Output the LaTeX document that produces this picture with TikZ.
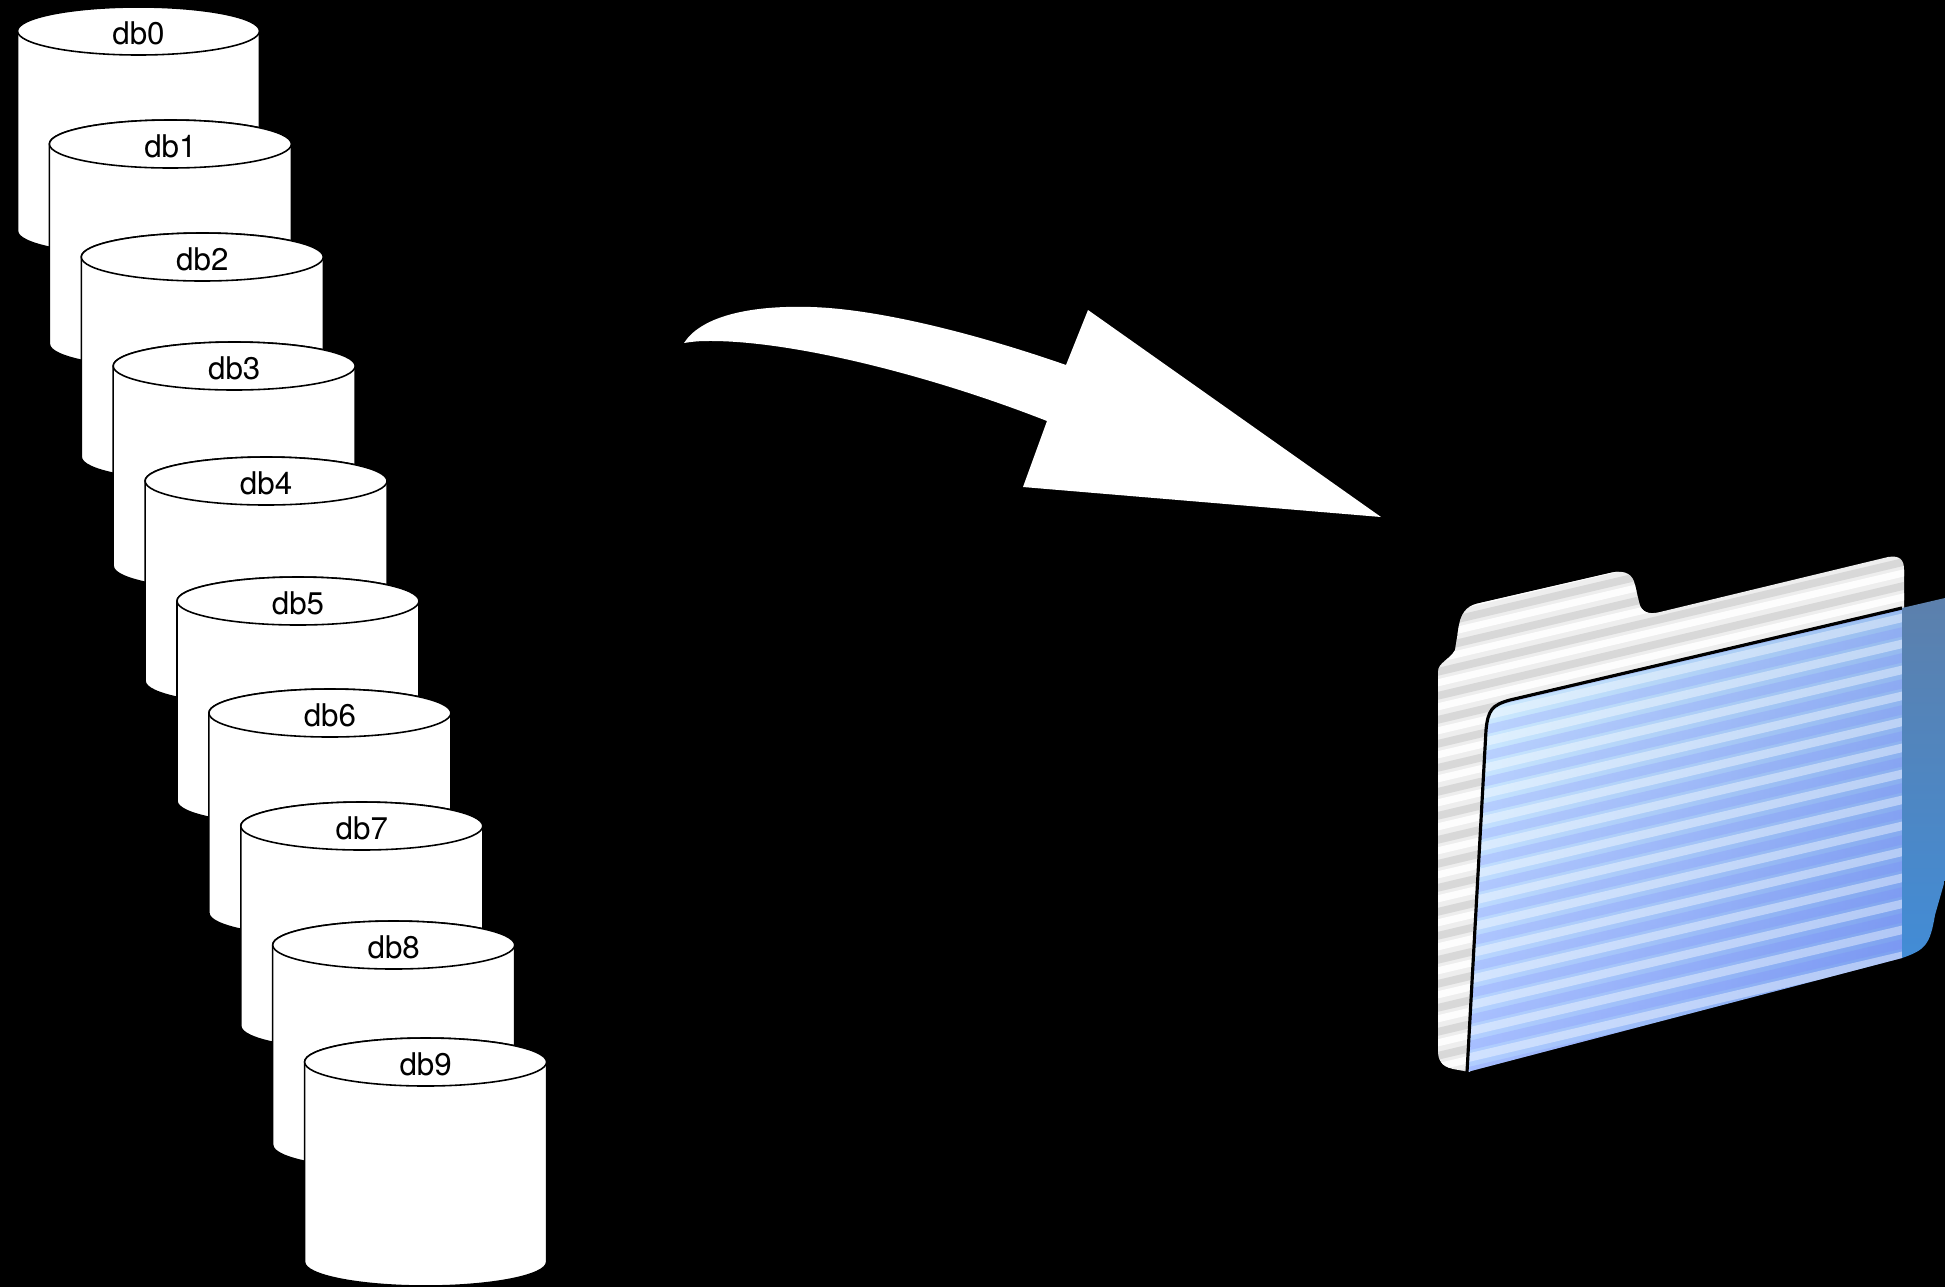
\documentclass[tikz,border=0pt]{standalone}
\usepackage{fontspec}
\setmainfont{TeX Gyre Heros}
\usetikzlibrary{calc}

\definecolor{folderlight}{RGB}{205,242,255}
\definecolor{folderright}{RGB}{125,172,236}
\definecolor{foldertop}{RGB}{92,128,172}
\definecolor{folderbottom}{RGB}{66,140,214}
\definecolor{tabgrey}{RGB}{238,238,238}

\begin{document}
\begin{tikzpicture}[
    x=0.01cm, y=-0.01cm,
    dbbody/.style={fill=white, draw=black, line width=0.45pt},
    dblabel/.style={font=\fontsize{8.9}{10}\selectfont, inner sep=0pt},
    bigarrow/.style={fill=white, draw=none}
]

% Canvas
\fill[black] (0,0) rectangle (1945,1287);
\useasboundingbox (0,0) rectangle (1945,1287);

% Dimensions of one database
\def\dbrx{121}
\def\dbry{24}
\def\dbh{200}

% Stack of databases, db0 at the back
\foreach \i/\yc in {0/31,1/144,2/257,3/366,4/481,5/601,6/713,7/826,8/945,9/1062} {
    \pgfmathsetmacro{\xc}{138.5+31.9*\i}
    \path[dbbody] (\xc-\dbrx,\yc) -- (\xc-\dbrx,\yc+\dbh)
        arc[start angle=180, end angle=0, x radius=\dbrx, y radius=\dbry]
        -- (\xc+\dbrx,\yc)
        arc[start angle=0, end angle=-180, x radius=\dbrx, y radius=\dbry] -- cycle;
    \draw[dbbody] (\xc,\yc) ellipse[x radius=\dbrx, y radius=\dbry];
    \node[dblabel] (db\i) at (\xc,\yc+2) {db\i};
}

% Big curved arrow
\fill[bigarrow] (684,343) .. controls (700,318) and (745,305) .. (811,307)
    .. controls (880,309) and (980,335) .. (1066,365)
    -- (1088,310) -- (1381,517) -- (1023,487) -- (1047,421)
    .. controls (930,375) and (790,340) .. (707,341)
    .. controls (697,341) and (690,342) .. (684,343) -- cycle;

% Folder: back sheet with the tab
\def\backsheet{(1453,1069) .. controls (1441,1066) and (1438,1060) .. (1438,1050)
    -- (1438,672) .. controls (1438,662) and (1450,660) .. (1455,650)
    -- (1459,625) .. controls (1462,609) and (1470,605) .. (1480,603)
    -- (1610,573) .. controls (1626,569) and (1633,575) .. (1635,585)
    -- (1639,602) .. controls (1641,612) and (1648,615) .. (1660,612)
    -- (1888,557) .. controls (1900,555) and (1904,560) .. (1904,570)
    -- (1904,620) -- (1500,720) -- (1470,1072) -- cycle}
\fill[tabgrey] \backsheet;
\begin{scope}
    \clip \backsheet;
    \foreach \k in {0,...,24} {
        \draw[gray!70, line width=2.2pt, opacity=0.3] (1420,580+24*\k) -- (1950,455+24*\k);
        \draw[white, line width=2pt, opacity=0.9] (1420,591+24*\k) -- (1950,466+24*\k);
    }
\end{scope}

% Folder: front sheet
\def\frontsheet{(1467,1072) -- (1486,730) .. controls (1488,710) and (1492,705) .. (1510,700)
    -- (1902,608) -- (1902,958) -- cycle}
\shade[left color=folderlight, right color=folderright] \frontsheet;
\begin{scope}
    \clip \frontsheet;
    \shade[top color=white, bottom color=blue!70, opacity=0.22] (1460,600) rectangle (1910,1080);
    \foreach \k in {0,...,18} {
        \draw[blue!55, line width=2.6pt, opacity=0.18] (1450,712+26*\k) -- (1910,604+26*\k);
        \draw[white, line width=2.4pt, opacity=0.4] (1450,724+26*\k) -- (1910,616+26*\k);
    }
\end{scope}
\draw[black, line width=0.9pt] (1467,1072) -- (1486,730) .. controls (1488,710) and (1492,705) .. (1510,700) -- (1902,608);

% Folder: turned edge on the right
\shade[top color=foldertop, bottom color=folderbottom] (1902,608) -- (1945,598) -- (1945,880)
    -- (1935,915) .. controls (1930,945) and (1925,950) .. (1902,958) -- cycle;

\end{tikzpicture}
\end{document}
